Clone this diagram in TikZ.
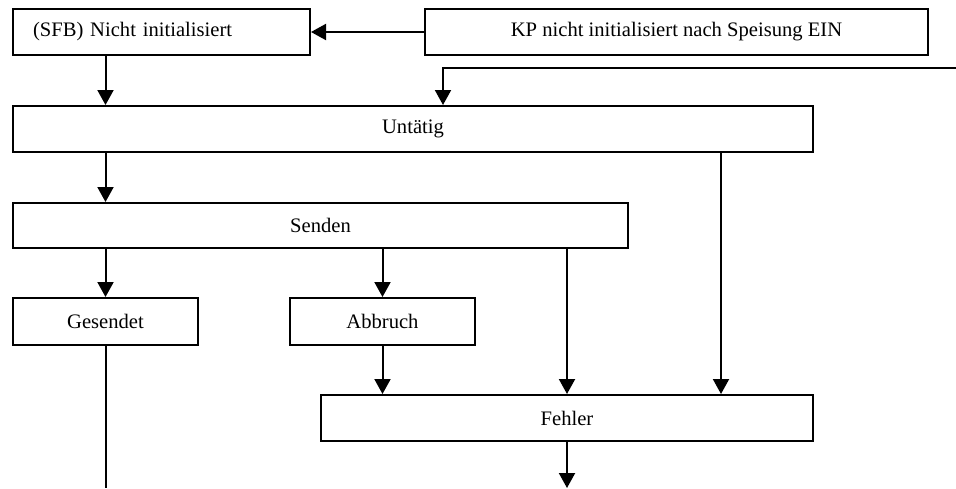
\documentclass[tikz,border=0pt]{standalone}
\usepackage{fontspec}
\setmainfont{Liberation Serif}
\usetikzlibrary{arrows.meta}
\begin{document}
\begin{tikzpicture}[x=1pt,y=-1pt,
  font=\fontsize{20.6}{24}\selectfont,
  box/.style={draw, line width=2pt, inner sep=0pt, minimum height=46pt, align=center},
  conn/.style={line width=2pt},
  arr/.style={conn, -{Triangle[width=16pt,length=15pt]}}]
\useasboundingbox (0,0) rectangle (956,488);

% state boxes
\node[box, minimum width=297pt, inner xsep=20pt, text width=257pt, align=left]
  (nichtinit) at (161.5,32) {(SFB) Nicht initialisiert};
\node[box, minimum width=503pt] (kp) at (676.5,32) {KP nicht initialisiert nach Speisung EIN};
\node[box, minimum width=800pt] (untaetig) at (413,129) {Untätig};
\node[box, minimum width=615pt, minimum height=45pt] (senden) at (320.5,225.5) {Senden};
\node[box, minimum width=185pt, minimum height=47pt] (gesendet) at (105.5,321.5) {Gesendet};
\node[box, minimum width=185pt, minimum height=47pt] (abbruch) at (382.5,321.5) {Abbruch};
\node[box, minimum width=492pt] (fehler) at (567,418) {Fehler};

% free ends of connectors
\coordinate (ein) at (956,68);
\coordinate (gesEnd) at (105.5,488);
\coordinate (fehlerEnd) at (567,488);

% transitions
\draw[arr] (kp.west) -- (nichtinit.east);
\draw[arr] (nichtinit.south -| gesendet) -- (untaetig.north -| gesendet);
\draw[arr] (ein) -| ([xshift=30pt]untaetig.north);
\draw[arr] (untaetig.south -| gesendet) -- (senden.north -| gesendet);
\draw[arr] (senden.south -| gesendet) -- (gesendet.north);
\draw[arr] (senden.south -| abbruch) -- (abbruch.north);
\draw[arr] (senden.south -| fehler) -- (fehler.north);
\draw[arr] ([xshift=308pt]untaetig.south) -- ([xshift=154pt]fehler.north);
\draw[arr] (abbruch.south) -- (abbruch |- fehler.north);
\draw[arr] (fehler.south) -- (fehlerEnd);
\draw[conn] (gesendet.south) -- (gesEnd);
\end{tikzpicture}
\end{document}
